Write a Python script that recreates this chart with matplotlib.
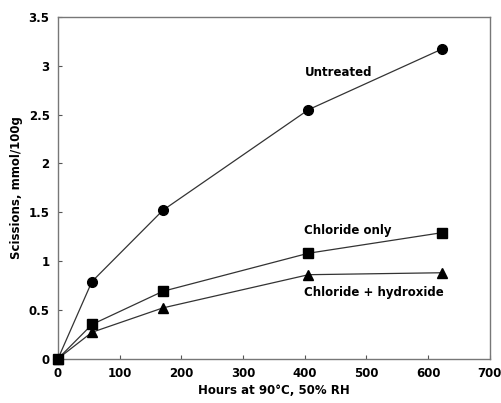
import matplotlib
matplotlib.use("Agg")
import matplotlib.pyplot as plt

# data
hours = [0, 55, 170, 406, 622]
untreated = [0, 0.79, 1.52, 2.55, 3.17]
chloride_only = [0, 0.35, 0.69, 1.08, 1.29]
chloride_hydroxide = [0, 0.27, 0.52, 0.86, 0.88]

xticks = [0, 100, 200, 300, 400, 500, 600, 700]
yticks = [0, 0.5, 1, 1.5, 2, 2.5, 3, 3.5]
ytick_labels = ["0", "0.5", "1", "1.5", "2", "2.5", "3", "3.5"]

plt.rcParams['font.family'] = ['DejaVu Sans']
plt.rcParams['font.weight'] = 'bold'

fig = plt.figure(figsize=(5.01, 4.03), dpi=100)
ax = fig.add_axes([0.1158, 0.110, 0.862, 0.848])

line_kw = dict(color='#333333', linewidth=0.9, markerfacecolor='black',
               markeredgecolor='black', clip_on=False, zorder=3)
ax.plot(hours, untreated, marker='o', markersize=7, **line_kw)
ax.plot(hours, chloride_hydroxide, marker='^', markersize=7, **line_kw)
ax.plot(hours, chloride_only, marker='s', markersize=7, **line_kw)

ax.text(400, 2.93, 'Untreated', fontsize=8.5, fontweight='bold', va='center')
ax.text(399, 1.31, 'Chloride only', fontsize=8.5, fontweight='bold', va='center')
ax.text(399, 0.68, 'Chloride + hydroxide', fontsize=8.5, fontweight='bold', va='center')

ax.set_xlim(0, 700)
ax.set_ylim(0, 3.5)
ax.set_xticks(xticks)
ax.set_yticks(yticks)
ax.set_yticklabels(ytick_labels)
ax.tick_params(direction='in', length=3, width=0.8, color='#555555',
               labelsize=8.5, pad=6)
for lab in ax.get_xticklabels() + ax.get_yticklabels():
    lab.set_fontweight('bold')
for sp in ax.spines.values():
    sp.set_color('#777777')
    sp.set_linewidth(1.0)

ax.set_xlabel('Hours at 90°C, 50% RH', fontsize=8.5, fontweight='bold', labelpad=3)
ax.set_ylabel('Scissions, mmol/100g', fontsize=8.5, fontweight='bold', labelpad=4)

fig.savefig('out.png', dpi=100)
